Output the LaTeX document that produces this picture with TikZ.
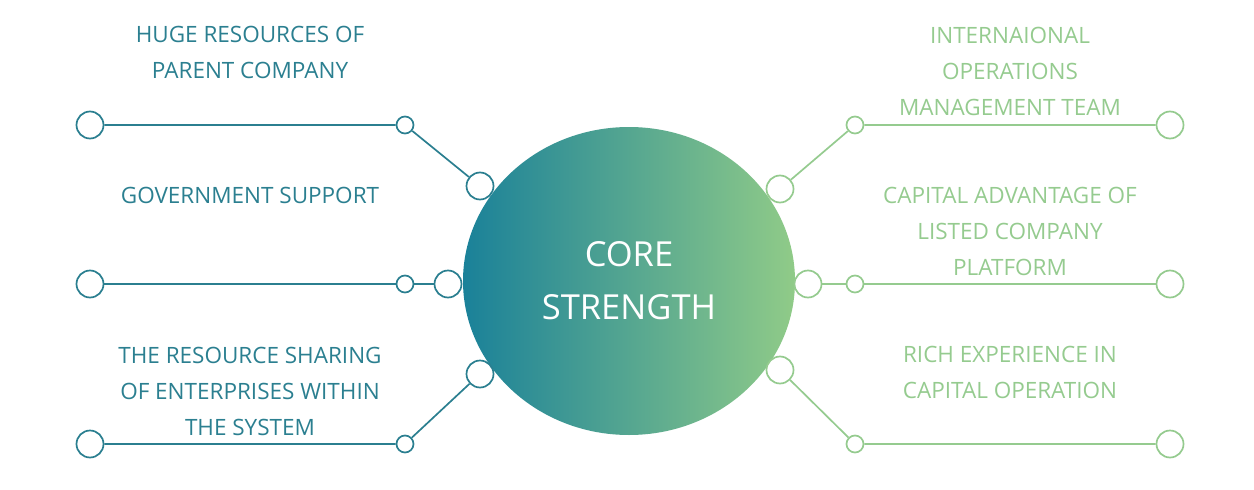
\documentclass[tikz,border=0pt]{standalone}
\usepackage{fontspec}
\setmainfont{Open Sans}
\usepackage{xcolor}
\usetikzlibrary{shapes.geometric}
\definecolor{tealdark}{HTML}{2B7F90}
\definecolor{leafgreen}{HTML}{95CB8F}
\definecolor{coreleft}{HTML}{1A8199}
\definecolor{coreright}{HTML}{90CB88}
\tikzset{
    bigdot/.style={shape=circle, draw=#1, line width=1.7pt, fill=white, minimum size=27pt, inner sep=0pt},
    smalldot/.style={shape=circle, draw=#1, line width=1.7pt, fill=white, minimum size=17pt, inner sep=0pt},
    link/.style={draw=#1, line width=1.7pt},
    caption/.style={text=#1, font=\fontsize{22.5}{36}\selectfont, align=center}}

\begin{document}
\begin{tikzpicture}[x=1pt, y=-1pt]

            \useasboundingbox (0,0) rectangle (1254,490);

            % centre
            \node[ellipse, left color=coreleft, right color=coreright, minimum width=332pt, minimum height=308pt, inner sep=0pt,
                  text=white, font=\fontsize{34.5}{53}\selectfont, align=center] (core) at (629,281) {CORE\\STRENGTH};

            % left side
            \node[bigdot=tealdark] (L1a) at (90,125) {};
            \node[smalldot=tealdark] (L1b) at (405,125) {};
            \node[bigdot=tealdark] (L1c) at (480,186) {};
            \node[bigdot=tealdark] (L2a) at (90,284) {};
            \node[smalldot=tealdark] (L2b) at (405,284) {};
            \node[bigdot=tealdark] (L2c) at (448,284) {};
            \node[bigdot=tealdark] (L3a) at (90,444) {};
            \node[smalldot=tealdark] (L3b) at (405,444) {};
            \node[bigdot=tealdark] (L3c) at (480,374) {};

            \draw[link=tealdark] (L1a) -- (L1b) -- (L1c);
            \draw[link=tealdark] (L2a) -- (L2b) -- (L2c);
            \draw[link=tealdark] (L3a) -- (L3b) -- (L3c);

            % right side
            \node[bigdot=leafgreen] (R1a) at (1170,125) {};
            \node[smalldot=leafgreen] (R1b) at (855,125) {};
            \node[bigdot=leafgreen] (R1c) at (780,189) {};
            \node[bigdot=leafgreen] (R2a) at (1170,284) {};
            \node[smalldot=leafgreen] (R2b) at (855,284) {};
            \node[bigdot=leafgreen] (R2c) at (808,284) {};
            \node[bigdot=leafgreen] (R3a) at (1170,444) {};
            \node[smalldot=leafgreen] (R3b) at (855,444) {};
            \node[bigdot=leafgreen] (R3c) at (780,370) {};

            \draw[link=leafgreen] (R1a) -- (R1b) -- (R1c);
            \draw[link=leafgreen] (R2a) -- (R2b) -- (R2c);
            \draw[link=leafgreen] (R3a) -- (R3b) -- (R3c);

            % texts
            \node[caption=tealdark] (t1) at (250,52) {HUGE RESOURCES OF\\PARENT COMPANY};
            \node[caption=tealdark] (t2) at (250,195) {GOVERNMENT SUPPORT};
            \node[caption=tealdark] (t3) at (250,391) {THE RESOURCE SHARING\\OF ENTERPRISES WITHIN\\THE SYSTEM};
            \node[caption=leafgreen] (t4) at (1010,71) {INTERNAIONAL\\OPERATIONS\\MANAGEMENT TEAM};
            \node[caption=leafgreen] (t5) at (1010,231) {CAPITAL ADVANTAGE OF\\LISTED COMPANY\\PLATFORM};
            \node[caption=leafgreen] (t6) at (1010,372) {RICH EXPERIENCE IN\\CAPITAL OPERATION};

        \end{tikzpicture}
\end{document}
